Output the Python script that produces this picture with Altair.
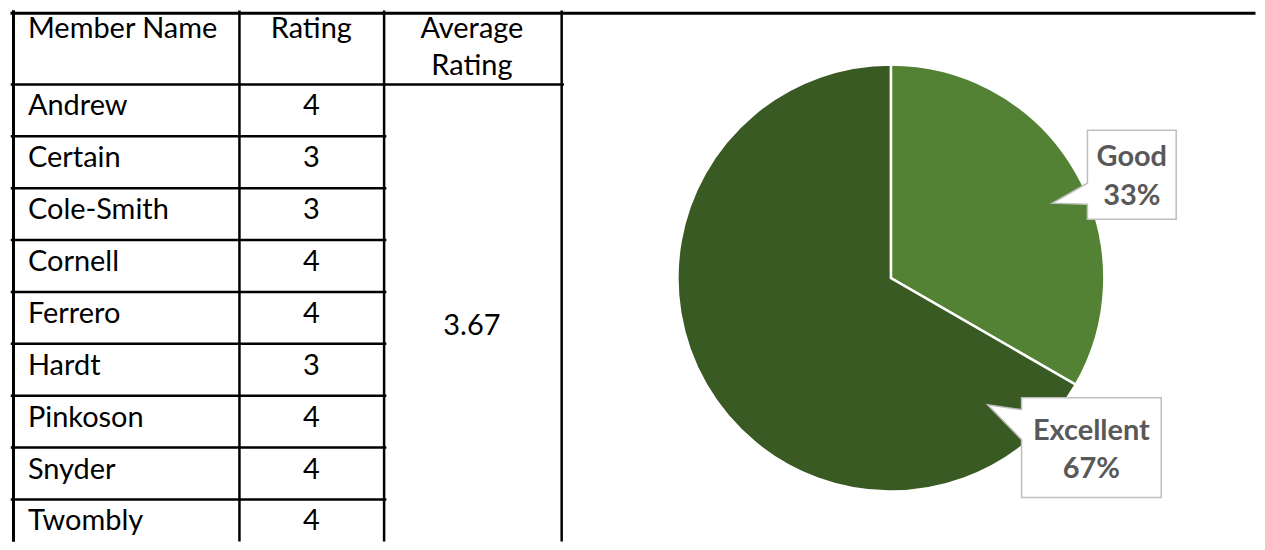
import altair as alt
import pandas as pd

# ---- data ----
names = ["Andrew", "Certain", "Cole-Smith", "Cornell", "Ferrero", "Hardt", "Pinkoson", "Snyder", "Twombly"]
ratings = [4, 3, 3, 4, 4, 3, 4, 4, 4]
header_labels = ["Member Name", "Rating", "Average", "Rating"]
categories = ["Good", "Excellent"]
category_rating = [3, 4]
colors = ["#548235", "#3a5a24"]

average = sum(ratings) / len(ratings)
counts = [sum(1 for r in ratings if r == v) for v in category_rating]
total = sum(counts)

# ---- layout (page pixel units) ----
W, H = 1249, 530
X0, Y0 = 8, 11
col_left, col1, col2, col3 = 13.5, 240, 385, 563
header_bottom = 84
row_h = 52
name_x, rating_x, avg_x = 28, 312, 473
bottom = Y0 + H

xs = alt.Scale(domain=[X0, X0 + W], range=[0, W], nice=False, zero=False)
ys = alt.Scale(domain=[Y0, Y0 + H], range=[0, H], nice=False, zero=False)

# grid lines
lines = []
lines.append(dict(x=12, x2=X0 + W, y=Y0 + 1.5, y2=Y0 + 1.5, w=3))
lines.append(dict(x=col_left, x2=col_left, y=Y0, y2=bottom, w=3))
for cx in (col1, col2, col3):
    lines.append(dict(x=cx, x2=cx, y=Y0, y2=bottom, w=2.5))
lines.append(dict(x=12, x2=col3 + 1, y=header_bottom, y2=header_bottom, w=2.5))
for i in range(1, len(names)):
    yy = header_bottom + row_h * i
    lines.append(dict(x=12, x2=col2 + 1, y=yy, y2=yy, w=2.5))
lines_df = pd.DataFrame(lines)

rules = alt.Chart(lines_df).mark_rule(color="black", strokeCap="square").encode(
    x=alt.X("x:Q", scale=xs, axis=None),
    x2="x2:Q",
    y=alt.Y("y:Q", scale=ys, axis=None),
    y2="y2:Q",
    strokeWidth=alt.StrokeWidth("w:Q", scale=None),
)

# table text
texts = []
texts.append(dict(t=header_labels[0], x=name_x, y=28, a="left"))
texts.append(dict(t=header_labels[1], x=rating_x, y=28, a="center"))
texts.append(dict(t=header_labels[2], x=avg_x, y=28, a="center"))
texts.append(dict(t=header_labels[3], x=avg_x, y=66, a="center"))
for i, (n, r) in enumerate(zip(names, ratings)):
    cy = header_bottom + row_h * i + 22
    texts.append(dict(t=n, x=name_x, y=cy, a="left"))
    texts.append(dict(t=str(r), x=rating_x, y=cy, a="center"))
texts.append(dict(t=f"{average:.2f}", x=avg_x, y=326, a="center"))
text_df = pd.DataFrame(texts)

def text_layer(df, align):
    return alt.Chart(df[df.a == align]).mark_text(
        font="Lato", fontSize=29, color="black", align=align, baseline="middle"
    ).encode(
        x=alt.X("x:Q", scale=xs, axis=None),
        y=alt.Y("y:Q", scale=ys, axis=None),
        text="t:N",
    )

left_text = text_layer(text_df, "left")
center_text = text_layer(text_df, "center")

# pie
pie_df = pd.DataFrame({"cat": categories, "n": counts, "ord": [0, 1]})
pie = alt.Chart(pie_df).mark_arc(radius=214, stroke="white", strokeWidth=2.5).encode(
    theta=alt.Theta("n:Q", stack=True),
    order=alt.Order("ord:Q"),
    color=alt.Color("cat:N", scale=alt.Scale(domain=categories, range=colors), legend=None),
    x=alt.value(893 - X0),
    y=alt.value(278 - Y0),
)

# callouts
good_path = "M -44.5 -44.5 L 44.5 -44.5 L 44.5 44.5 L -44.5 44.5 L -44.5 29.5 L -79.5 28.5 L -44.5 8.5 Z"
exc_path = "M -70 -50 L 70 -50 L 70 50 L -70 50 L -70 -8 L -104 -43 L -70 -38 Z"

def callout(path, cx, cy):
    return alt.Chart(pd.DataFrame({"x": [cx], "y": [cy]})).mark_point(
        shape=path, size=4, filled=True, fill="white", stroke="#bfbfbf",
        strokeWidth=1.5, opacity=1, fillOpacity=1, strokeOpacity=1,
    ).encode(
        x=alt.X("x:Q", scale=xs, axis=None),
        y=alt.Y("y:Q", scale=ys, axis=None),
    )

good_box = callout(good_path, 1134.5, 174.5)
exc_box = callout(exc_path, 1094, 448)

pct = [round(100 * c / total) for c in counts]
lab_df = pd.DataFrame([
    dict(t=categories[0], x=1134.5, y=157),
    dict(t=f"{pct[0]}%", x=1134.5, y=196),
    dict(t=categories[1], x=1094, y=431),
    dict(t=f"{pct[1]}%", x=1094, y=469),
])
labels = alt.Chart(lab_df).mark_text(
    font="Lato", fontSize=29, fontWeight="bold", color="#595959", align="center", baseline="middle"
).encode(
    x=alt.X("x:Q", scale=xs, axis=None),
    y=alt.Y("y:Q", scale=ys, axis=None),
    text="t:N",
)

chart = alt.layer(
    pie, rules, left_text, center_text, good_box, exc_box, labels
).properties(width=W, height=H, padding=0).configure_view(strokeWidth=0)

chart.save("out.html", embed_options={"renderer": "svg", "actions": False})
